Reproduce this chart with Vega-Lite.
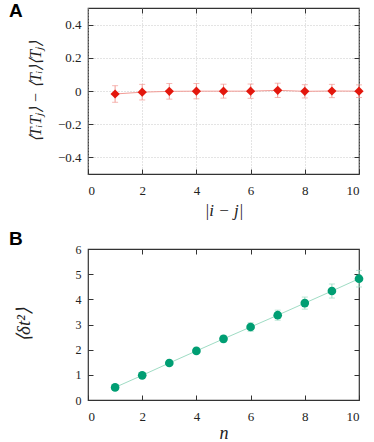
{
  "$schema": "https://vega.github.io/schema/vega-lite/v6.json",
  "padding": {"left": 8, "top": 0, "right": 12, "bottom": 2},
  "spacing": 10,
  "config": {
    "font": "Liberation Serif",
    "view": {"stroke": "#333", "strokeWidth": 1.2},
    "axis": {
      "labelFont": "Liberation Serif",
      "titleFont": "Liberation Serif",
      "labelFontSize": 13,
      "labelColor": "#222",
      "titleColor": "#222",
      "titleFontWeight": "normal",
      "domain": false,
      "grid": false,
      "tickColor": "#333",
      "tickSize": -5,
      "labelPadding": 15
    },
    "title": {"font": "Liberation Sans", "fontSize": 19, "fontWeight": "bold", "anchor": "start", "frame": "group", "color": "#000"}
  },
  "datasets": {
    "corr": [
      {"d": 1, "c": -0.018, "e": 0.05},
      {"d": 2, "c": -0.007, "e": 0.047},
      {"d": 3, "c": -0.002, "e": 0.047},
      {"d": 4, "c": -0.001, "e": 0.046},
      {"d": 5, "c": -0.001, "e": 0.042},
      {"d": 6, "c": -0.001, "e": 0.043},
      {"d": 7, "c": 0.004, "e": 0.043},
      {"d": 8, "c": -0.002, "e": 0.04},
      {"d": 9, "c": 0.0, "e": 0.04},
      {"d": 10, "c": -0.001, "e": 0.038}
    ],
    "var": [
      {"n": 1, "v": 0.5, "e": 0.03},
      {"n": 2, "v": 0.98, "e": 0.05},
      {"n": 3, "v": 1.47, "e": 0.07},
      {"n": 4, "v": 1.95, "e": 0.09},
      {"n": 5, "v": 2.43, "e": 0.13},
      {"n": 6, "v": 2.9, "e": 0.17},
      {"n": 7, "v": 3.37, "e": 0.2},
      {"n": 8, "v": 3.85, "e": 0.24},
      {"n": 9, "v": 4.33, "e": 0.28},
      {"n": 10, "v": 4.82, "e": 0.33}
    ]
  },
  "vconcat": [
    {
      "width": 271,
      "height": 166,
      "title": {"text": "A", "dx": -79, "dy": -1, "offset": -14},
      "data": {"name": "corr"},
      "resolve": {"axis": {"x": "independent", "y": "independent"}},
      "layer": [
        {
          "encoding": {
            "x": {"field": "d", "type": "quantitative",
              "scale": {"domain": [0, 10], "nice": false},
              "axis": {"values": [0, 2, 4, 6, 8, 10], "title": "|i − j|", "titleFontStyle": "italic", "titleFontSize": 17, "titlePadding": 5,
                "grid": true, "gridDash": [1, 2], "gridColor": "#bbb", "gridWidth": 0.8}},
            "y": {"field": "c", "type": "quantitative",
              "scale": {"domain": [-0.5, 0.5], "nice": false},
              "axis": {"values": [-0.4, -0.2, 0, 0.2, 0.4], "format": ".1~f", "title": "⟨TᵢTⱼ⟩ − ⟨Tᵢ⟩⟨Tⱼ⟩", "titleFontStyle": "italic", "titleFontSize": 16, "titlePadding": 14, "labelPadding": 12,
                "grid": true, "gridDash": [1, 2], "gridColor": "#bbb", "gridWidth": 0.8}}
          },
          "layer": [
            {"mark": {"type": "line", "color": "#f29a94", "strokeWidth": 1}},
            {"mark": {"type": "errorbar", "color": "#f29a94", "ticks": {"size": 6, "color": "#f29a94"}, "thickness": 1}, "encoding": {"yError": {"field": "e"}}},
            {"mark": {"type": "point", "shape": "diamond", "filled": true, "color": "#e3170d", "opacity": 1, "size": 85}}
          ]
        },
        {
          "mark": {"type": "point", "opacity": 0},
          "encoding": {
            "x": {"field": "d", "type": "quantitative", "axis": {"orient": "top", "values": [2, 4, 6, 8], "labels": false, "title": null, "grid": false}},
            "y": {"field": "c", "type": "quantitative", "axis": {"orient": "right", "values": [-0.4, -0.2, 0, 0.2, 0.4], "labels": false, "title": null, "grid": false}}
          }
        }
      ]
    },
    {
      "width": 271,
      "height": 151,
      "title": {"text": "B", "dx": -79, "dy": -8, "offset": -14},
      "data": {"name": "var"},
      "resolve": {"axis": {"x": "independent", "y": "independent"}},
      "layer": [
        {
          "encoding": {
            "x": {"field": "n", "type": "quantitative",
              "scale": {"domain": [0, 10], "nice": false},
              "axis": {"values": [0, 2, 4, 6, 8, 10], "title": "n", "titleFontStyle": "italic", "titleFontSize": 18, "titlePadding": 1, "grid": false}},
            "y": {"field": "v", "type": "quantitative",
              "scale": {"domain": [0, 6], "nice": false},
              "axis": {"values": [0, 1, 2, 3, 4, 5, 6], "title": "⟨δt²⟩", "titleFontStyle": "italic", "titleFontSize": 19, "titlePadding": 42, "labelFontSize": 12, "labelPadding": 12, "grid": false}}
          },
          "layer": [
            {"mark": {"type": "line", "color": "#9fdcc4", "strokeWidth": 1}},
            {"mark": {"type": "errorbar", "color": "#9fdcc4", "ticks": {"size": 6, "color": "#9fdcc4"}, "thickness": 1}, "encoding": {"yError": {"field": "e"}}},
            {"mark": {"type": "circle", "color": "#009e73", "opacity": 1, "size": 75}}
          ]
        },
        {
          "mark": {"type": "point", "opacity": 0},
          "encoding": {
            "x": {"field": "n", "type": "quantitative", "axis": {"orient": "top", "values": [2, 4, 6, 8], "labels": false, "title": null, "grid": false}},
            "y": {"field": "v", "type": "quantitative", "axis": {"orient": "right", "values": [1, 2, 3, 4, 5], "labels": false, "title": null, "grid": false}}
          }
        }
      ]
    }
  ]
}
